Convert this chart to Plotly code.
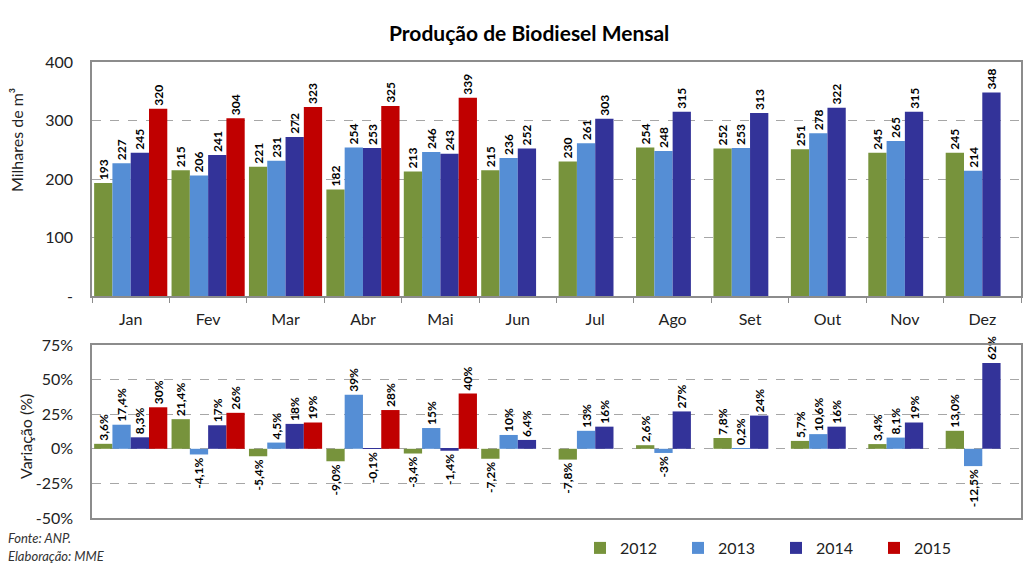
import plotly.graph_objects as go

months = ["Jan", "Fev", "Mar", "Abr", "Mai", "Jun", "Jul", "Ago", "Set", "Out", "Nov", "Dez"]
years = ["2012", "2013", "2014", "2015"]
colors = ["#77933C", "#558ED5", "#333399", "#C00000"]

prod_2012 = [193, 215, 221, 182, 213, 215, 230, 254, 252, 251, 245, 245]
prod_2013 = [227, 206, 231, 254, 246, 236, 261, 248, 253, 278, 265, 214]
prod_2014 = [245, 241, 272, 253, 243, 252, 303, 315, 313, 322, 315, 348]
prod_2015 = [320, 304, 323, 325, 339, None, None, None, None, None, None, None]

var_2012 = [3.6, 21.4, -5.4, -9.0, -3.4, -7.2, -7.8, 2.6, 7.8, 5.7, 3.4, 13.0]
var_2013 = [17.4, -4.1, 4.5, 39, 15, 10, 13, -3, 0.2, 10.6, 8.1, -12.5]
var_2014 = [8.3, 17, 18, -0.1, -1.4, 6.4, 16, 27, 24, 16, 19, 62]
var_2015 = [30, 26, 19, 28, 40, None, None, None, None, None, None, None]

var_lbl_2012 = ["3,6%", "21,4%", "-5,4%", "-9,0%", "-3,4%", "-7,2%", "-7,8%", "2,6%", "7,8%", "5,7%", "3,4%", "13,0%"]
var_lbl_2013 = ["17,4%", "-4,1%", "4,5%", "39%", "15%", "10%", "13%", "-3%", "0,2%", "10,6%", "8,1%", "-12,5%"]
var_lbl_2014 = ["8,3%", "17%", "18%", "-0,1%", "-1,4%", "6,4%", "16%", "27%", "24%", "16%", "19%", "62%"]
var_lbl_2015 = ["30%", "26%", "19%", "28%", "40%", "", "", "", "", "", "", ""]

prod_ticks = [0, 100, 200, 300, 400]
prod_ticktext = ["-", "100", "200", "300", "400"]
var_ticks = [-50, -25, 0, 25, 50, 75]
var_ticktext = ["-50%", "-25%", "0%", "25%", "50%", "75%"]

prod = [prod_2012, prod_2013, prod_2014, prod_2015]
var = [var_2012, var_2013, var_2014, var_2015]
var_lbl = [var_lbl_2012, var_lbl_2013, var_lbl_2014, var_lbl_2015]

FONT = "Lato"
W, H = 1024, 576

def px_y(p):
    return 1 - p / H

fig = go.Figure()
for i, y in enumerate(years):
    fig.add_trace(go.Bar(
        x=months, y=prod[i], name=y, marker_color=colors[i], marker_line_width=0,
        text=["" if v is None else str(v) for v in prod[i]],
        textposition="outside", textangle=-90, cliponaxis=False, constraintext="none",
        textfont=dict(family=FONT, size=12, color="black", weight="bold"),
        xaxis="x", yaxis="y", legendgroup=y, showlegend=True,
    ))
for i, y in enumerate(years):
    fig.add_trace(go.Bar(
        x=months, y=var[i], name=y, marker_color=colors[i], marker_line_width=0,
        text=var_lbl[i],
        textposition="outside", textangle=-90, cliponaxis=False, constraintext="none",
        textfont=dict(family=FONT, size=12, color="black", weight="bold"),
        xaxis="x2", yaxis="y2", legendgroup=y, showlegend=False,
    ))

xdom = [92 / W, 1021 / W]
axis_line = dict(showline=True, linecolor="#8c8c8c", linewidth=1.5, mirror=True)
fig.update_layout(
    width=W, height=H,
    margin=dict(l=0, r=0, t=0, b=0, autoexpand=False),
    paper_bgcolor="white", plot_bgcolor="white",
    barmode="group", bargap=0.055, bargroupgap=0,
    font=dict(family=FONT, size=16, color="#222"),
    xaxis=dict(domain=xdom, anchor="y", type="category", tickson="boundaries",
               ticks="outside", ticklen=5, tickcolor="#8c8c8c", showgrid=False,
               ticklabelstandoff=8,
               tickfont=dict(size=16, color="#222"), automargin=False, **axis_line),
    yaxis=dict(domain=[px_y(296), px_y(62)], anchor="x", range=[0, 400],
               tickvals=prod_ticks, ticktext=prod_ticktext,
               showgrid=True, gridcolor="#a6a6a6", griddash="dash", gridwidth=1,
               zeroline=False, ticks="", ticklabelstandoff=14, automargin=False,
               tickfont=dict(size=16, color="#222"), **axis_line),
    xaxis2=dict(domain=xdom, anchor="y2", type="category", showticklabels=False,
                ticks="", showgrid=False, automargin=False, **axis_line),
    yaxis2=dict(domain=[px_y(518), px_y(345)], anchor="x2", range=[-50, 75],
                tickvals=var_ticks, ticktext=var_ticktext,
                showgrid=True, gridcolor="#a6a6a6", griddash="dash", gridwidth=1,
                zeroline=False, ticks="", ticklabelstandoff=14, automargin=False,
                tickfont=dict(size=16, color="#222"), **axis_line),
    legend=dict(orientation="h", x=580 / W, y=px_y(548), xanchor="left", yanchor="middle",
                entrywidth=53, entrywidthmode="pixels", itemwidth=30,
                font=dict(size=16, color="#222"), bgcolor="rgba(0,0,0,0)"),
    annotations=[
        dict(text="<b>Produção de Biodiesel Mensal</b>", x=529 / W, y=px_y(33), xref="paper", yref="paper",
             xanchor="center", yanchor="middle", showarrow=False, font=dict(size=21, color="black")),
        dict(text="Milhares de m³", textangle=-90, x=16 / W, y=px_y(140), xref="paper", yref="paper",
             xanchor="center", yanchor="middle", showarrow=False, font=dict(size=16, color="#222")),
        dict(text="Variação (%)", textangle=-90, x=25 / W, y=px_y(437), xref="paper", yref="paper",
             xanchor="center", yanchor="middle", showarrow=False, font=dict(size=16, color="#222")),
        dict(text="<i>Fonte: ANP.</i>", x=6 / W, y=px_y(538), xref="paper", yref="paper",
             xanchor="left", yanchor="middle", showarrow=False, font=dict(size=13, color="#333")),
        dict(text="<i>Elaboração: MME</i>", x=6 / W, y=px_y(556), xref="paper", yref="paper",
             xanchor="left", yanchor="middle", showarrow=False, font=dict(size=13, color="#333")),
    ],
)

fig.write_html("out.html", config={"displayModeBar": False},
               post_script="document.body.style.margin='0';document.body.style.padding='0';")
